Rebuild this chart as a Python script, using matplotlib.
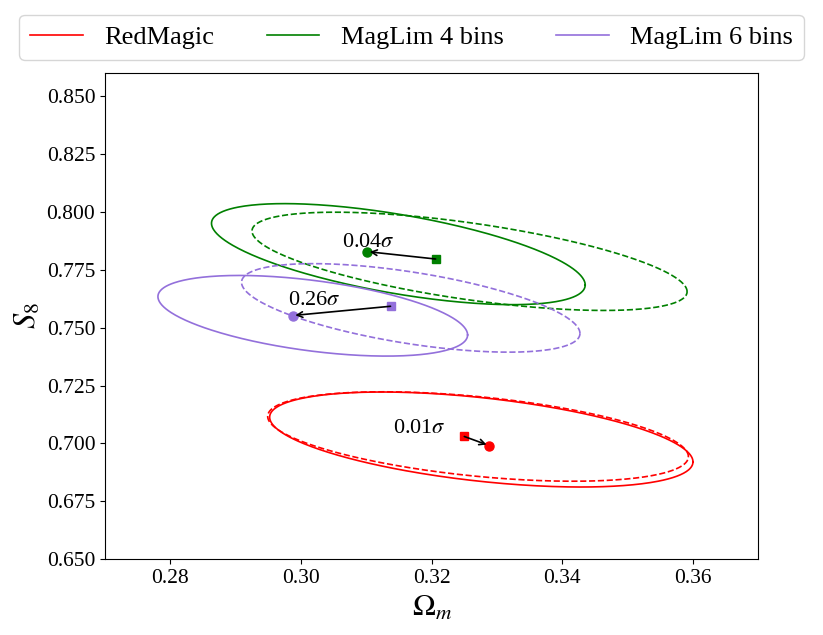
import numpy as np
import matplotlib
matplotlib.use("Agg")
import matplotlib.pyplot as plt

plt.rcParams['font.family'] = ['Liberation Serif', 'DejaVu Serif']
plt.rcParams['mathtext.fontset'] = 'stix'

# ---------------- data ----------------
samples = ['RedMagic', 'MagLim 4 bins', 'MagLim 6 bins']

# solid contours (Omega_m centre, S8 centre, half-extent Om, half-extent S8, correlation)
solid_om = [0.3276, 0.3149, 0.3018]
solid_s8 = [0.7017, 0.7817, 0.7551]
solid_dom = [0.0324, 0.0286, 0.0237]
solid_ds8 = [0.0205, 0.0218, 0.0174]
solid_rho = [-0.47, -0.61, -0.475]

# dashed contours
dashed_om = [0.3271, 0.3258, 0.3168]
dashed_s8 = [0.7030, 0.7786, 0.7585]
dashed_dom = [0.0322, 0.0333, 0.0259]
dashed_ds8 = [0.0193, 0.0212, 0.0191]
dashed_rho = [-0.45, -0.617, -0.577]

# best-fit points
circle_om = [0.3288, 0.3101, 0.2987]
circle_s8 = [0.6991, 0.7828, 0.7552]
square_om = [0.3250, 0.3206, 0.3137]
square_s8 = [0.7030, 0.7796, 0.7592]

shift_labels = [r'0.01$\sigma$', r'0.04$\sigma$', r'0.26$\sigma$']
label_om = [0.3141, 0.3062, 0.2980]
label_s8 = [0.7065, 0.7868, 0.7616]

colors = ['red', 'green', 'mediumpurple']

# ---------------- figure ----------------
fig = plt.figure(figsize=(8.23, 6.35), dpi=100)
ax = fig.add_axes([0.1276, 0.1192, 0.9214 - 0.1276, 0.8855 - 0.1192])

t = np.linspace(0, 2 * np.pi, 400)


def ellipse(cx, cy, a, b, rho):
    x = cx + a * np.cos(t)
    y = cy + b * (rho * np.cos(t) + np.sqrt(1 - rho ** 2) * np.sin(t))
    return x, y


handles = []
for i, name in enumerate(samples):
    c = colors[i]
    x, y = ellipse(solid_om[i], solid_s8[i], solid_dom[i], solid_ds8[i], solid_rho[i])
    h, = ax.plot(x, y, color=c, lw=1.2, label=name)
    handles.append(h)
    x, y = ellipse(dashed_om[i], dashed_s8[i], dashed_dom[i], dashed_ds8[i], dashed_rho[i])
    ax.plot(x, y, color=c, lw=1.2, ls='--')
    ax.plot(circle_om[i], circle_s8[i], 'o', color=c, ms=6.5, zorder=4)
    ax.plot(square_om[i], square_s8[i], 's', color=c, ms=6, zorder=4)
    ax.annotate('', xy=(circle_om[i], circle_s8[i]), xytext=(square_om[i], square_s8[i]),
                arrowprops=dict(arrowstyle='->', color='black', lw=1.2,
                                shrinkA=0, shrinkB=2), zorder=5)
    ax.text(label_om[i], label_s8[i], shift_labels[i], fontsize=16,
            ha='left', va='center', zorder=6)

ax.set_xlim(0.27, 0.37)
ax.set_ylim(0.65, 0.86)
ax.set_xticks([0.28, 0.30, 0.32, 0.34, 0.36])
ax.set_yticks([0.650, 0.675, 0.700, 0.725, 0.750, 0.775, 0.800, 0.825, 0.850])
ax.set_yticklabels(['%.3f' % v for v in ax.get_yticks()])
ax.set_xticklabels(['%.2f' % v for v in ax.get_xticks()])
ax.tick_params(labelsize=15.5)
ax.set_xlabel(r'$\Omega_m$', fontsize=22)
ax.set_ylabel(r'$S_8$', fontsize=22, labelpad=3)

fig.legend(handles=handles, loc='upper center', bbox_to_anchor=(0.5, 1 - 15 / 635),
           borderaxespad=0, ncol=3, fontsize=19, frameon=True)

fig.savefig('out.png', dpi=100)
